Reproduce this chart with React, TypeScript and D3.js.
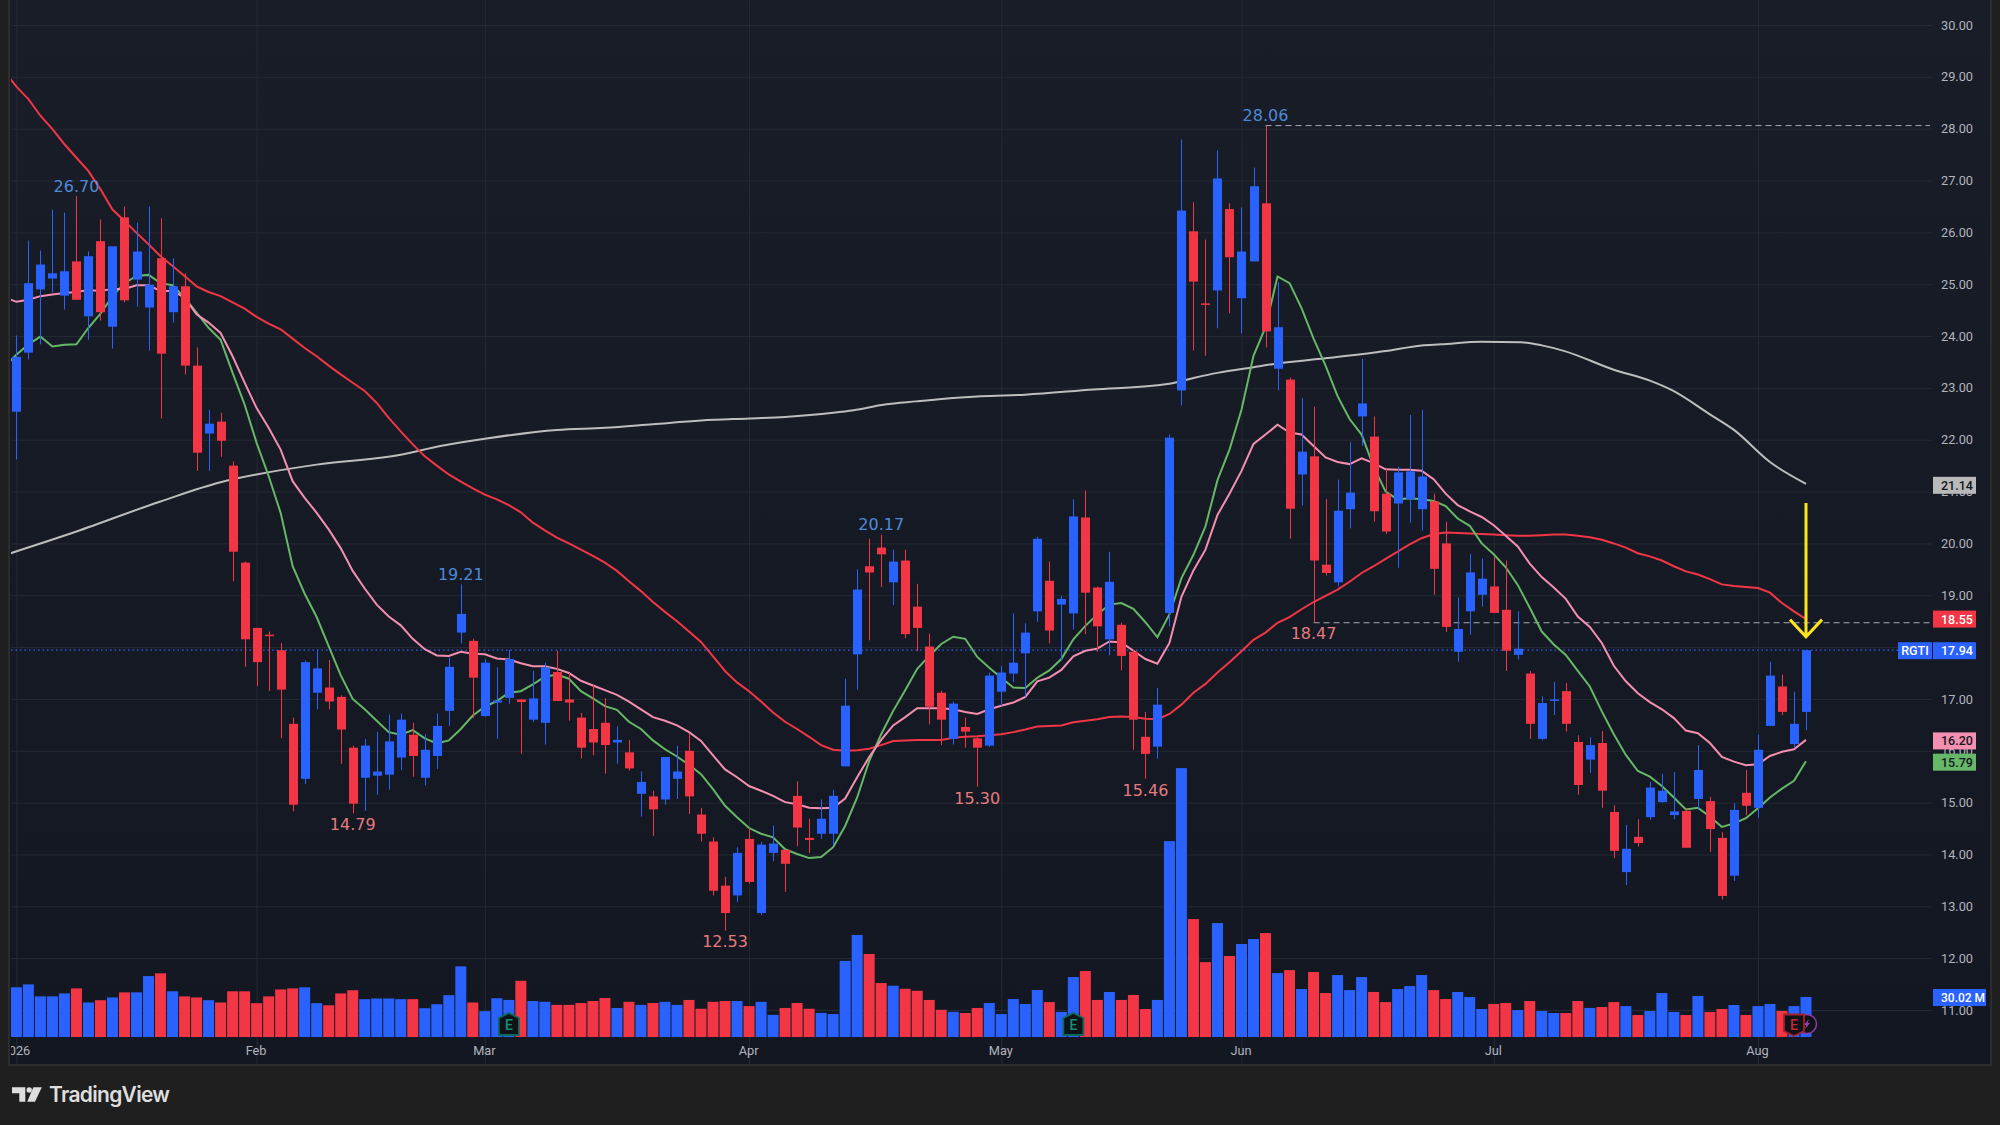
import { useEffect, useRef } from 'react';
import * as d3 from 'd3';

// Daily candles (blue: close above open)
const opens = [22.54,23.68,24.90,25.11,24.78,25.44,24.38,25.83,24.18,26.29,25.09,24.55,25.50,24.46,24.96,23.43,22.12,22.35,21.50,19.63,18.37,18.24,17.94,16.52,15.46,17.12,17.22,17.04,16.06,15.48,15.52,15.54,15.87,16.31,15.48,15.90,16.77,18.28,18.12,16.67,16.93,17.02,16.99,16.60,16.54,17.52,16.99,16.64,16.42,16.54,16.16,15.97,15.17,15.12,15.06,15.46,16.00,14.77,14.25,13.40,13.21,14.30,12.87,14.03,14.09,15.13,14.32,14.40,14.40,15.70,17.86,19.56,19.92,19.25,19.67,18.78,18.01,17.12,16.23,16.46,16.24,16.10,17.14,17.49,17.88,18.69,19.28,18.82,18.65,20.50,19.15,18.15,18.43,17.91,16.27,16.08,18.66,22.95,26.02,24.63,24.88,26.45,24.73,25.44,26.56,23.37,23.16,21.33,21.68,19.59,19.25,20.66,22.45,22.06,20.96,20.77,20.85,20.66,20.81,20.00,17.91,18.69,19.01,19.17,18.72,17.85,17.49,16.23,16.97,17.15,16.17,15.83,16.15,14.82,13.66,14.34,14.72,15.01,14.76,14.84,15.07,15.03,14.32,13.59,15.19,14.90,16.48,17.24,16.13,16.75];
const highs = [24.01,25.84,25.65,26.44,26.38,26.70,25.63,26.25,25.73,26.50,26.19,26.50,26.27,25.50,25.21,23.78,22.58,22.52,21.58,19.65,18.37,18.30,18.08,16.64,17.74,17.96,17.75,17.07,16.10,16.23,16.37,16.70,16.72,16.54,16.32,16.72,17.80,19.21,18.16,17.77,17.61,17.95,17.00,17.54,17.70,17.93,17.50,16.73,17.26,17.01,16.47,16.21,15.60,15.23,15.88,16.10,16.32,14.90,14.33,13.57,14.14,14.51,14.24,14.56,14.09,15.41,14.69,15.06,15.25,17.39,19.50,20.09,20.17,19.88,19.88,19.22,18.26,17.16,16.95,16.64,16.27,17.51,17.63,18.65,18.46,20.13,19.65,18.99,20.85,21.02,19.17,19.84,18.47,17.95,16.75,17.21,22.10,27.79,26.58,25.86,27.58,26.56,26.48,27.25,28.06,25.04,23.20,22.80,22.64,20.85,21.23,21.95,23.56,22.45,21.44,21.48,22.48,22.58,20.96,20.42,18.96,19.80,19.71,19.74,19.67,18.69,17.54,17.05,17.33,17.31,16.30,16.26,16.38,14.95,14.57,14.68,15.40,15.56,15.59,14.89,16.11,15.11,14.43,14.99,15.63,16.31,17.72,17.47,17.14,17.94];
const lows = [21.62,23.55,23.84,24.84,24.51,24.70,23.93,24.30,23.76,24.65,24.57,23.72,22.41,24.26,23.26,21.40,21.40,21.67,19.27,17.62,17.25,17.15,16.24,14.83,15.36,16.80,16.80,15.75,14.79,14.84,15.15,15.25,15.63,15.50,15.33,15.65,16.48,18.07,16.63,16.66,16.23,16.90,15.94,16.55,16.12,16.96,16.58,15.85,15.91,15.56,15.75,15.62,14.73,14.36,14.96,15.07,14.78,14.25,13.21,12.53,13.08,13.44,12.83,13.87,13.28,14.16,14.03,14.30,14.18,15.70,17.18,18.13,19.16,18.81,18.17,17.92,16.51,16.11,16.12,16.06,15.31,16.07,16.86,17.33,17.04,18.49,18.07,17.75,18.34,18.25,17.91,17.84,17.55,16.02,15.46,15.85,18.40,22.66,23.72,23.62,24.15,24.44,24.05,25.44,23.78,22.95,20.09,20.73,18.47,19.38,19.17,20.29,21.88,20.42,20.18,19.53,20.40,20.25,19.01,18.29,17.72,18.24,18.78,18.66,17.54,17.76,16.23,16.20,16.69,16.37,15.15,15.57,14.90,13.93,13.41,14.15,14.67,15.00,14.68,14.13,14.86,14.05,13.13,13.49,14.76,14.71,16.48,16.69,16.05,16.40];
const closes = [23.60,25.02,25.38,25.21,25.25,24.70,25.54,24.46,25.73,24.69,25.63,24.99,23.66,24.96,23.43,21.75,22.31,21.98,19.84,18.15,17.71,18.21,17.18,14.96,17.71,17.59,16.95,16.41,14.98,16.10,15.60,16.18,16.60,15.90,16.02,16.48,17.62,18.64,17.41,17.70,16.97,17.77,16.94,17.01,17.61,16.96,16.93,16.06,16.16,16.11,16.21,15.66,15.40,14.87,15.88,15.60,15.12,14.40,13.30,12.87,14.03,13.47,14.19,14.21,13.82,14.52,14.28,14.69,15.13,16.87,19.11,19.44,19.79,19.65,18.25,18.37,16.85,16.60,16.91,16.37,16.06,17.45,17.51,17.70,18.28,20.09,18.32,18.93,20.52,19.05,18.40,19.26,17.83,16.60,15.94,16.89,22.04,26.42,25.05,24.61,27.04,25.52,25.63,26.89,24.09,24.17,20.67,21.77,19.67,19.43,20.63,20.98,22.70,20.62,20.23,21.37,21.39,21.29,19.51,18.39,18.35,19.44,19.32,18.66,17.93,17.97,16.52,16.92,16.99,16.52,15.34,16.11,15.23,14.07,14.11,14.22,15.29,15.23,14.83,14.13,15.63,14.49,13.20,14.86,14.94,16.02,17.45,16.75,16.52,17.94];

// Volume in millions
const volumes = [37.3,39.5,30.5,30.5,32.7,36.5,25.9,27.6,29.7,33.5,33.5,45.7,47.8,34.3,30.5,29.7,27.6,25.9,34.3,34.3,25.4,30.5,35.7,36.5,37.3,25.4,23.8,32.7,35.1,28.4,28.9,28.9,28.4,28.4,21.6,24.6,31.4,53.0,25.9,19.4,29.1,27.8,42.2,27,26.4,24.1,24.1,25.5,27,29.3,21.8,26.4,24.1,25.5,26.4,24.1,27.8,21.2,26.4,27,27,23.2,26.4,16.6,21.8,25.5,21.2,18.1,17.2,57.1,76.6,62.3,40.5,38.5,36.2,34.7,27.8,20.4,18.9,18,21.8,25.5,17.2,28.5,24.8,35.3,26.2,18.8,45,49.5,27.8,33.8,27.8,31.5,21,27.8,147,201.8,88.5,56.2,85.5,60.8,69.8,73.5,78,48,50.2,36,48.8,33,46.5,35.2,45,33.8,26.2,36,38.2,46.5,35.2,28.5,33.8,30,21,24.8,25.5,20.2,27,19.5,18,18,27,21.8,22.5,26.2,23.2,16.5,19.5,33,18.8,16.5,30.8,18.8,21,24,16.5,23.2,24.8,19.5,23.2,30.02];

// Moving averages, one reading per bar. The first value belongs to the bar
// just left of the visible range, so the lines run into the pane edge.
const greenMa = [23.40,23.64,23.84,23.99,23.80,23.83,23.84,24.16,24.43,24.77,25.02,25.16,25.18,25.02,24.98,24.74,24.45,24.16,23.93,23.29,22.68,21.94,21.30,20.59,19.56,19.03,18.58,18.02,17.46,17.00,16.80,16.58,16.36,16.31,16.40,16.24,16.14,16.20,16.42,16.68,16.85,16.96,17.12,17.15,17.28,17.43,17.47,17.39,17.15,17.01,16.86,16.79,16.56,16.42,16.20,16.03,15.89,15.73,15.55,15.26,14.94,14.72,14.51,14.40,14.33,14.10,14.01,13.93,13.95,14.14,14.55,15.10,15.80,16.32,16.77,17.17,17.58,17.83,18.06,18.20,18.16,17.81,17.60,17.41,17.22,17.21,17.41,17.55,17.77,18.15,18.41,18.63,18.82,18.85,18.74,18.48,18.19,18.63,19.33,19.78,20.33,21.22,21.81,22.58,23.62,24.17,25.15,25.02,24.54,23.95,23.43,22.84,22.40,22.10,21.48,21.00,20.85,20.87,20.85,20.82,20.72,20.48,20.34,20.00,19.79,19.54,19.20,18.76,18.30,18.05,17.85,17.54,17.24,16.76,16.32,15.92,15.61,15.50,15.32,15.10,14.87,14.90,14.73,14.53,14.60,14.70,14.89,15.10,15.27,15.42,15.80];
const pinkMa = [24.75,24.66,24.70,24.77,24.80,24.83,24.85,24.89,24.87,24.91,24.91,24.98,24.98,24.87,24.87,24.74,24.42,24.26,24.06,23.61,23.10,22.61,22.23,21.81,21.20,20.88,20.59,20.27,19.91,19.47,19.13,18.82,18.59,18.42,18.16,17.96,17.84,17.83,17.91,17.87,17.86,17.78,17.76,17.69,17.63,17.63,17.58,17.50,17.35,17.26,17.17,17.08,16.95,16.80,16.65,16.58,16.49,16.36,16.19,15.91,15.64,15.49,15.32,15.23,15.13,15.01,14.97,14.90,14.89,14.90,15.08,15.49,15.88,16.21,16.49,16.65,16.82,16.82,16.82,16.80,16.75,16.71,16.80,16.87,16.93,17.04,17.34,17.41,17.56,17.82,17.93,17.97,18.11,18.09,17.93,17.77,17.68,18.08,18.97,19.48,19.88,20.55,20.96,21.40,21.92,22.10,22.29,22.14,22.10,21.88,21.66,21.57,21.53,21.64,21.55,21.43,21.42,21.42,21.40,21.24,20.96,20.74,20.62,20.51,20.35,20.15,19.94,19.61,19.35,19.15,18.93,18.59,18.39,18.08,17.64,17.34,17.11,16.94,16.80,16.63,16.39,16.34,16.15,15.88,15.79,15.72,15.74,15.90,15.98,16.03,16.21];
const redMa = [29.10,28.81,28.57,28.25,27.99,27.70,27.44,27.18,26.83,26.44,26.22,25.99,25.77,25.54,25.35,25.16,24.96,24.85,24.77,24.65,24.53,24.37,24.24,24.13,23.95,23.77,23.61,23.43,23.26,23.10,22.94,22.71,22.42,22.16,21.91,21.68,21.50,21.33,21.19,21.06,20.94,20.85,20.74,20.60,20.40,20.25,20.11,20.00,19.88,19.76,19.63,19.47,19.27,19.08,18.87,18.68,18.50,18.30,18.10,17.82,17.54,17.32,17.15,16.95,16.74,16.56,16.42,16.27,16.11,16.02,16.00,16.01,16.04,16.11,16.19,16.20,16.21,16.21,16.21,16.25,16.27,16.28,16.30,16.32,16.36,16.41,16.47,16.48,16.49,16.55,16.58,16.61,16.65,16.66,16.65,16.62,16.61,16.71,16.89,17.12,17.29,17.51,17.71,17.92,18.14,18.28,18.47,18.58,18.73,18.87,18.99,19.11,19.26,19.43,19.56,19.70,19.84,19.98,20.10,20.18,20.21,20.20,20.19,20.18,20.17,20.16,20.15,20.15,20.16,20.17,20.17,20.15,20.12,20.07,20.00,19.92,19.81,19.75,19.67,19.56,19.46,19.40,19.31,19.21,19.18,19.16,19.14,19.05,18.85,18.69,18.54];

// The long average is smooth, so it is read at fewer bars
const whiteIdx = [-0.5,5,12,17,20,25,32,35.3,39,45,49,53,57,61,64,68,69.7,72.3,74.9,78.3,80.3,84,89.7,95,96,98,100,103,105,109,114,117,118.6,122,125.3,127,128.9,133,136,137.8,141,143,146,149];
const whiteMa = [19.81,20.23,20.81,21.18,21.33,21.52,21.71,21.88,22.02,22.19,22.23,22.30,22.37,22.41,22.44,22.52,22.57,22.68,22.74,22.81,22.84,22.87,22.97,23.05,23.08,23.19,23.29,23.40,23.47,23.57,23.71,23.82,23.84,23.89,23.88,23.82,23.71,23.35,23.14,22.96,22.49,22.19,21.57,21.15];

const priceTicks = d3.range(11, 31);
const monthIdx = [0, 20, 39, 61, 82, 102, 123, 145];
const monthLabels = ['2026', 'Feb', 'Mar', 'Apr', 'May', 'Jun', 'Jul', 'Aug'];

// Pivot labels: bar index, price, and whether it sits above (high) or below (low)
const highMarks = [[5, 26.70], [37, 19.21], [72, 20.17], [104, 28.06]];
const lowMarks = [[28, 14.79], [59, 12.53], [80, 15.30], [94, 15.46], [108, 18.47]];

const BLUE = '#2962ff';
const RED = '#f23645';
const GREEN_MA = '#66b768';
const PINK_MA = '#f48fb1';
const WHITE_MA = '#bdbdbd';
const FONT = 'Roboto, "Liberation Sans", sans-serif';

const PLOT = { left: 11, right: 1932, bottom: 1064, edge: 1990 };

export default function App() {
  const svgRef = useRef<SVGSVGElement>(null);

  useEffect(() => {
    if (!svgRef.current) return;
    const svg = d3.select(svgRef.current);
    svg.selectAll('*').remove();

    const x = d3.scaleLinear().domain([0, 149]).range([16.4, 1806]);
    const y = d3.scaleLinear().domain([11, 30]).range([1010, 25]);
    const v = d3.scaleLinear().domain([0, 30.02]).range([1037, 997]);

    const defs = svg.append('defs');
    const grad = defs.append('linearGradient')
      .attr('id', 'paneBg')
      .attr('x1', 0).attr('x2', 0).attr('y1', 0).attr('y2', 1);
    grad.append('stop').attr('offset', '0%').attr('stop-color', '#191d28');
    grad.append('stop').attr('offset', '100%').attr('stop-color', '#131722');
    defs.append('clipPath').attr('id', 'plotClip').append('rect')
      .attr('x', PLOT.left).attr('y', 0)
      .attr('width', PLOT.right - PLOT.left).attr('height', PLOT.bottom);

    // Window and pane background
    svg.append('rect').attr('width', 2000).attr('height', 1125).attr('fill', '#1f1f1f');
    svg.append('rect')
      .attr('x', 9).attr('y', -3)
      .attr('width', PLOT.edge - 9 + 1).attr('height', PLOT.bottom + 4)
      .attr('fill', 'url(#paneBg)')
      .attr('stroke', '#2c2c2f')
      .attr('stroke-width', 2);

    const plot = svg.append('g').attr('clip-path', 'url(#plotClip)');

    // Grid lines
    const hGrid = plot.append('g')
      .attr('transform', `translate(${PLOT.left},0)`)
      .call(d3.axisLeft(y).tickValues(priceTicks).tickSize(-(PLOT.right - PLOT.left)).tickFormat(() => ''));
    hGrid.select('.domain').remove();
    hGrid.selectAll('line').attr('stroke', '#262a34');

    const vGrid = plot.append('g')
      .attr('transform', `translate(0,${PLOT.bottom})`)
      .call(d3.axisTop(x).tickValues(monthIdx).tickSize(PLOT.bottom).tickFormat(() => ''));
    vGrid.select('.domain').remove();
    vGrid.selectAll('line').attr('stroke', '#262a34');

    const colorOf = (i: number) => (closes[i] >= opens[i] ? BLUE : RED);

    // Volume bars
    plot.append('g').selectAll('rect')
      .data(volumes)
      .join('rect')
      .attr('x', (_, i) => x(i) - 5.5)
      .attr('width', 11)
      .attr('y', d => v(d))
      .attr('height', d => v(0) - v(d))
      .attr('fill', (_, i) => colorOf(i));

    // Last-price line and the two dashed level lines
    plot.append('line')
      .attr('x1', PLOT.left).attr('x2', 1898)
      .attr('y1', y(17.94)).attr('y2', y(17.94))
      .attr('stroke', BLUE).attr('stroke-width', 1.2).attr('stroke-dasharray', '1.5,3');
    [[104, 28.06], [108, 18.47]].forEach(([i, p]) => {
      plot.append('line')
        .attr('x1', x(i)).attr('x2', PLOT.right - 2)
        .attr('y1', y(p)).attr('y2', y(p))
        .attr('stroke', '#a5a9b4').attr('stroke-width', 1).attr('stroke-dasharray', '6,4');
    });

    // Moving averages (index 0 of these arrays is the bar before the first one)
    const line = d3.line<number>()
      .x((_, i) => x(i - 1))
      .y(d => y(d));
    const whiteLine = d3.line<number>()
      .x((_, i) => x(whiteIdx[i]))
      .y(d => y(d))
      .curve(d3.curveMonotoneX);

    const maG = plot.append('g').attr('fill', 'none').attr('stroke-width', 2);
    maG.append('path').attr('d', whiteLine(whiteMa)).attr('stroke', WHITE_MA);

    // Candles
    const candles = plot.append('g').selectAll('g')
      .data(opens)
      .join('g')
      .attr('fill', (_, i) => colorOf(i))
      .attr('stroke', (_, i) => colorOf(i));
    candles.append('line')
      .attr('x1', (_, i) => Math.round(x(i)) + 0.5)
      .attr('x2', (_, i) => Math.round(x(i)) + 0.5)
      .attr('y1', (_, i) => y(highs[i]))
      .attr('y2', (_, i) => y(lows[i]))
      .attr('stroke-width', 1);
    candles.append('rect')
      .attr('x', (_, i) => Math.round(x(i)) - 4)
      .attr('width', 9)
      .attr('y', (_, i) => y(Math.max(opens[i], closes[i])))
      .attr('height', (_, i) => Math.max(1.5, Math.abs(y(opens[i]) - y(closes[i]))))
      .attr('stroke', 'none');

    maG.append('path').attr('d', line(redMa)).attr('stroke', RED);
    maG.append('path').attr('d', line(greenMa)).attr('stroke', GREEN_MA);
    maG.append('path').attr('d', line(pinkMa)).attr('stroke', PINK_MA);

    // Pivot labels
    const pivotFont = '"DejaVu Sans", sans-serif';
    highMarks.forEach(([i, p]) => {
      plot.append('text')
        .attr('x', x(i)).attr('y', y(p) - 10)
        .attr('dy', '0.36em')
        .attr('text-anchor', 'middle')
        .attr('font-family', pivotFont).attr('font-size', 16)
        .attr('fill', '#4f8ad8')
        .text(p.toFixed(2));
    });
    lowMarks.forEach(([i, p]) => {
      plot.append('text')
        .attr('x', x(i)).attr('y', y(p) + 11)
        .attr('dy', '0.36em')
        .attr('text-anchor', 'middle')
        .attr('font-family', pivotFont).attr('font-size', 16)
        .attr('fill', '#e57b7d')
        .text(p.toFixed(2));
    });

    // Yellow arrow on the last bar
    const arrowX = x(149);
    const arrow = d3.path();
    arrow.moveTo(arrowX, y(20.78));
    arrow.lineTo(arrowX, y(18.2));
    arrow.moveTo(arrowX - 16, y(18.53));
    arrow.lineTo(arrowX, y(18.2));
    arrow.lineTo(arrowX + 16, y(18.53));
    svg.append('path')
      .attr('d', arrow.toString())
      .attr('fill', 'none')
      .attr('stroke', '#fbe51f')
      .attr('stroke-width', 3);

    // Earnings / dividend style badges over the volume bars
    const badge = (i: number, stroke: string, text: string, up: boolean) => {
      const g = svg.append('g').attr('transform', `translate(${x(i)},1025)`);
      g.append('path')
        .attr('d', up
          ? 'M0,-12 L10,-7 L10,10 L-10,10 L-10,-7 Z'
          : 'M-10,-10.5 L10,-10.5 L10,6 L0,11 L-10,6 Z')
        .attr('fill', '#0f1318')
        .attr('stroke', stroke)
        .attr('stroke-width', 1.8);
      g.append('text')
        .attr('text-anchor', 'middle')
        .attr('dy', '0.36em')
        .attr('font-family', FONT).attr('font-size', 14).attr('font-weight', 500)
        .attr('fill', text)
        .text('E');
    };
    badge(41, '#0b6a5a', '#10917a', true);
    badge(88, '#0b6a5a', '#10917a', true);

    const bolt = svg.append('g').attr('transform', `translate(${x(149) + 1},1024)`);
    bolt.append('circle').attr('r', 9.5)
      .attr('fill', '#0f1318').attr('stroke', '#8f3aa6').attr('stroke-width', 1.5);
    bolt.append('path')
      .attr('d', 'M2,-5 L-3,1 L-0.5,1 L-2,5 L3,-1 L0.5,-1 Z')
      .attr('fill', '#9a43b5');
    badge(148, '#a81f2c', '#c9283a', false);

    // Price axis
    const priceAxis = svg.append('g')
      .attr('transform', 'translate(1941,0)')
      .call(d3.axisRight(y).tickValues(priceTicks).tickSize(0).tickPadding(0).tickFormat(d3.format('.2f')));
    priceAxis.select('.domain').remove();
    priceAxis.selectAll('text')
      .attr('font-family', FONT).attr('font-size', 12.75).attr('fill', '#b2b5be');

    // Time axis
    const timeClip = defs.append('clipPath').attr('id', 'timeClip');
    timeClip.append('rect').attr('x', PLOT.left).attr('y', 1037).attr('width', 1979).attr('height', 27);
    const timeAxis = svg.append('g')
      .attr('clip-path', 'url(#timeClip)')
      .append('g')
      .attr('transform', 'translate(-1,1037)')
      .call(d3.axisBottom(x).tickValues(monthIdx).tickSize(0).tickPadding(9).tickFormat((_, i) => monthLabels[i]));
    timeAxis.select('.domain').remove();
    timeAxis.selectAll('text')
      .attr('font-family', FONT).attr('font-size', 12.75).attr('fill', '#b2b5be');

    // Value tags on the price axis
    const tag = (value: number, label: string, fill: string, text: string, w = 43) => {
      svg.append('rect')
        .attr('x', 1933).attr('y', value - 8.5)
        .attr('width', w).attr('height', 17)
        .attr('fill', fill);
      svg.append('text')
        .attr('x', 1941).attr('y', value)
        .attr('dy', '0.36em')
        .attr('font-family', FONT).attr('font-size', 12.5).attr('font-weight', 500)
        .attr('fill', text)
        .text(label);
    };
    tag(y(21.14) + 1, '21.14', '#b9b9b9', '#131722');
    tag(y(18.55) + 0.5, '18.55', RED, '#ffffff');
    tag(y(17.94) + 0.5, '17.94', BLUE, '#ffffff');
    tag(y(16.2) + 0.5, '16.20', PINK_MA, '#131722');
    tag(y(15.79) + 0.5, '15.79', GREEN_MA, '#131722');

    svg.append('rect')
      .attr('x', 1898).attr('y', y(17.94) - 8)
      .attr('width', 34).attr('height', 17)
      .attr('fill', BLUE);
    svg.append('text')
      .attr('x', 1915).attr('y', y(17.94) + 0.5)
      .attr('dy', '0.36em')
      .attr('text-anchor', 'middle')
      .attr('font-family', FONT).attr('font-size', 12.5).attr('font-weight', 500)
      .attr('fill', '#ffffff')
      .text('RGTI');

    svg.append('rect')
      .attr('x', 1933).attr('y', v(30.02) - 8)
      .attr('width', 53).attr('height', 17)
      .attr('fill', BLUE);
    svg.append('text')
      .attr('x', 1941).attr('y', v(30.02) + 0.5)
      .attr('dy', '0.36em')
      .attr('font-family', FONT).attr('font-size', 12).attr('font-weight', 500)
      .attr('fill', '#ffffff')
      .text('30.02 M');

    // TradingView logo
    const logo = svg.append('g').attr('fill', '#dedede');
    logo.append('path').attr('d', 'M12,1087.3 H25.3 V1101.7 H19.3 V1093.3 H12 Z');
    logo.append('circle').attr('cx', 29.2).attr('cy', 1090).attr('r', 2.7);
    logo.append('path').attr('d', 'M33.4,1087.3 H41.8 L35,1101.7 H27.2 Z');
    logo.append('text')
      .attr('x', 49).attr('y', 1101.5)
      .attr('font-family', 'Inter, sans-serif').attr('font-size', 21).attr('font-weight', 600)
      .attr('textLength', 121)
      .text('TradingView');
  }, []);

  return (
    <svg
      ref={svgRef}
      width={2000}
      height={1125}
      style={{ position: 'absolute', top: 0, left: 0, display: 'block' }}
    />
  );
}
